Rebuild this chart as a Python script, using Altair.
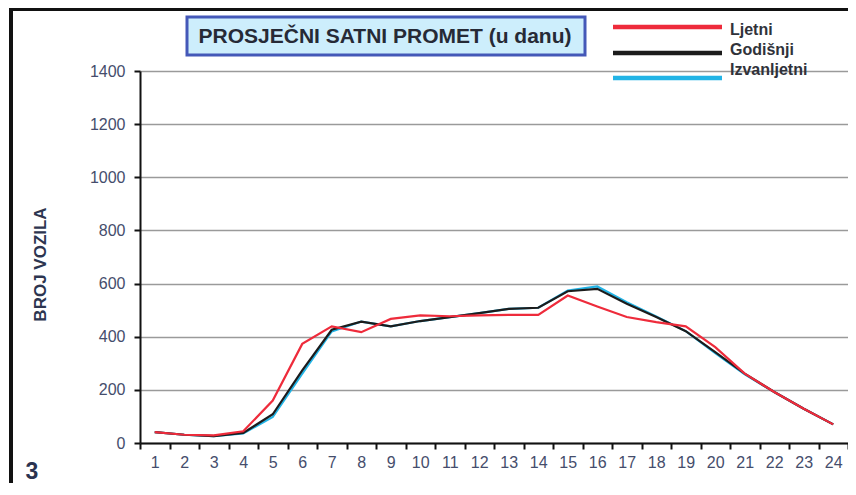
import altair as alt
import pandas as pd

hours = list(range(1, 25))
series_names = ["Ljetni", "Godišnji", "Izvanljetni"]
ljetni = [41, 31, 29, 44, 160, 373, 439, 417, 467, 480, 477, 480, 482, 482, 555, 514, 474, 455, 439, 361, 261, 192, 129, 70]
godisnji = [41, 31, 26, 38, 108, 273, 426, 457, 439, 459, 474, 489, 505, 509, 571, 580, 524, 474, 421, 342, 261, 192, 129, 70]
izvanljetni = [41, 31, 26, 36, 98, 261, 420, 457, 439, 459, 474, 489, 505, 509, 574, 589, 530, 476, 421, 338, 258, 192, 129, 70]
y_ticks = [0, 200, 400, 600, 800, 1000, 1200, 1400]

colors = {"Ljetni": "#ee2b3b", "Godišnji": "#1c1c1c", "Izvanljetni": "#22b4e6"}
values = {"Ljetni": ljetni, "Godišnji": godisnji, "Izvanljetni": izvanljetni}

FONT = "Liberation Sans"
W, H = 708, 372
PAD = {"left": 132, "top": 63, "right": 0, "bottom": 40}

x_enc = alt.X(
    "hour:O",
    scale=alt.Scale(type="band", paddingInner=0, paddingOuter=0, domain=hours),
    axis=alt.Axis(
        title=None, labelAngle=0, tickBand="extent", grid=False,
        domainColor="#111111", domainWidth=2, tickColor="#111111", tickWidth=2,
        tickSize=6, labelFont=FONT, labelFontSize=16, labelColor="#454d6c",
        labelPadding=5,
    ),
)
y_enc = alt.Y(
    "value:Q",
    scale=alt.Scale(domain=[0, 1400], nice=False),
    axis=alt.Axis(
        title="BROJ VOZILA", values=y_ticks, format="d", grid=True,
        gridColor="#9a9a9a", gridWidth=1.6, domainColor="#111111",
        domainWidth=2, tickColor="#111111", tickWidth=2, tickSize=6,
        labelFont=FONT, labelFontSize=16, labelColor="#454d6c", labelPadding=9,
        titleFont=FONT, titleFontSize=17, titleFontWeight="bold",
        titleColor="#2d3550", titleAngle=270, titleX=-100, titleY=193,
        titleAlign="center", titleBaseline="middle",
    ),
)

layers = []
for name in ["Izvanljetni", "Godišnji", "Ljetni"]:
    df = pd.DataFrame({"hour": hours, "value": values[name], "series": name})
    layers.append(
        alt.Chart(df).mark_line(color=colors[name], strokeWidth=2.2).encode(
            x=x_enc, y=y_enc
        )
    )

dummy = pd.DataFrame({"a": [0]})
base = alt.Chart(dummy)

# frame
frame_left = base.mark_rule(color="#111111", strokeWidth=4).encode(
    x=alt.value(-129), y=alt.value(-63), y2=alt.value(412)
)
frame_top = base.mark_rule(color="#111111", strokeWidth=4).encode(
    x=alt.value(-131), x2=alt.value(710), y=alt.value(-62)
)

# title box
title_box = base.mark_rect(fill="#cdeefc", stroke="#4458b8", strokeWidth=3).encode(
    x=alt.value(47), x2=alt.value(445), y=alt.value(-54), y2=alt.value(-16)
)
title_text = base.mark_text(
    text="PROSJEČNI SATNI PROMET (u danu)", font=FONT, fontSize=21,
    fontWeight="bold", color="#262a36", align="center", baseline="middle",
).encode(x=alt.value(245), y=alt.value(-34))

# legend
leg_line_y = {"Ljetni": -44, "Godišnji": -18, "Izvanljetni": 7}
leg_text_y = {"Ljetni": -41, "Godišnji": -21, "Izvanljetni": -1}
legend_layers = []
for name in series_names:
    legend_layers.append(
        base.mark_rule(color=colors[name], strokeWidth=4.5).encode(
            x=alt.value(473), x2=alt.value(582), y=alt.value(leg_line_y[name])
        )
    )
    legend_layers.append(
        base.mark_text(
            text=name, font=FONT, fontSize=16, fontWeight="bold", color="#30323a",
            align="left", baseline="middle",
        ).encode(x=alt.value(590), y=alt.value(leg_text_y[name]))
    )

number_text = base.mark_text(
    text="3", font=FONT, fontSize=23, fontWeight="bold", color="#2b3350",
    align="center", baseline="middle",
).encode(x=alt.value(-108), y=alt.value(401))

chart = alt.layer(
    frame_left, frame_top, title_box, title_text, *layers, *legend_layers, number_text
).properties(
    width=W, height=H, padding=PAD,
    autosize=alt.AutoSizeParams(type="none"), background="white",
).configure_view(strokeWidth=0)

chart.save("out.html", embed_options={"renderer": "svg", "actions": False})
